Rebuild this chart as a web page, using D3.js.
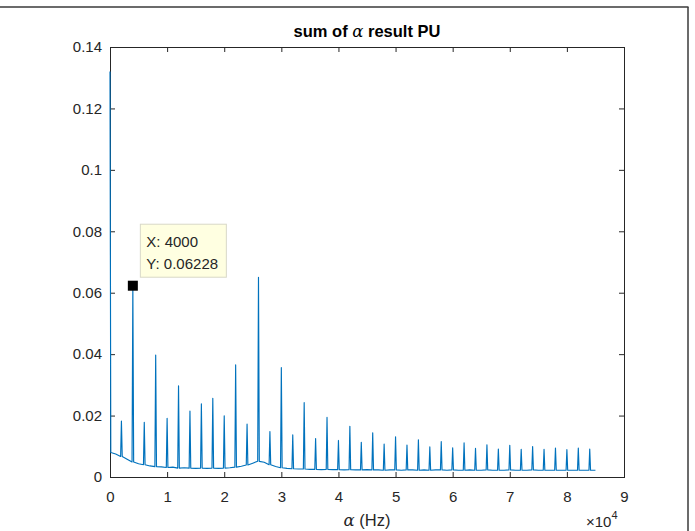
<!DOCTYPE html>
<html>
<head>
<meta charset="utf-8">
<script src="https://cdn.jsdelivr.net/npm/d3@7/dist/d3.min.js"></script>
<style>
  html, body { margin: 0; padding: 0; background: #ffffff; }
  svg { display: block; }
  text { font-family: "Liberation Sans", Arial, Helvetica, sans-serif; }
</style>
</head>
<body>
<svg id="chart" width="695" height="531"></svg>
<script>
// ---------- data ----------
const titleText = "result PU";
const xTicks = [0, 10000, 20000, 30000, 40000, 50000, 60000, 70000, 80000, 90000];
const xTickLabels = ["0", "1", "2", "3", "4", "5", "6", "7", "8", "9"];
const yTicks = [0, 0.02, 0.04, 0.06, 0.08, 0.1, 0.12, 0.14];
const yTickLabels = ["0", "0.02", "0.04", "0.06", "0.08", "0.1", "0.12", "0.14"];

// spike frequencies (Hz) and spike heights
const peakHz = [0, 2000, 4000, 6000, 8000, 10000, 12000, 14000, 16000, 18000,
  20000, 22000, 24000, 26000, 28000, 30000, 32000, 34000, 36000, 38000,
  40000, 42000, 44000, 46000, 48000, 50000, 52000, 54000, 56000, 58000,
  60000, 62000, 64000, 66000, 68000, 70000, 72000, 74000, 76000, 78000,
  80000, 82000, 84000];
const peakVal = [0.132, 0.0182, 0.06228, 0.0178, 0.0397, 0.0191, 0.0297, 0.0215, 0.0238, 0.0256,
  0.0199, 0.0365, 0.0172, 0.0650, 0.0148, 0.0356, 0.0137, 0.0242, 0.0125, 0.0194,
  0.0119, 0.0165, 0.0113, 0.0144, 0.0107, 0.0131, 0.0104, 0.0121, 0.0098, 0.0115,
  0.0095, 0.0111, 0.0093, 0.0105, 0.0091, 0.0103, 0.0090, 0.0099, 0.0090, 0.0094,
  0.0089, 0.0094, 0.0091];

// noise floor, read every 1000 Hz from 0 to 85000 Hz
const floorHz = [0, 1000, 2000, 3000, 4000, 5000, 6000, 7000, 8000, 9000,
  10000, 11000, 12000, 13000, 14000, 15000, 16000, 17000, 18000, 19000,
  20000, 21000, 22000, 23000, 24000, 25000, 26000, 27000, 28000, 29000,
  30000, 31000, 32000, 33000, 34000, 35000, 36000, 37000, 38000, 39000,
  40000, 41000, 42000, 43000, 44000, 45000, 46000, 47000, 48000, 49000,
  50000, 51000, 52000, 53000, 54000, 55000, 56000, 57000, 58000, 59000,
  60000, 61000, 62000, 63000, 64000, 65000, 66000, 67000, 68000, 69000,
  70000, 71000, 72000, 73000, 74000, 75000, 76000, 77000, 78000, 79000,
  80000, 81000, 82000, 83000, 84000, 85000];
const floorVal = [0.0080, 0.0075, 0.0067, 0.0058, 0.0049, 0.0043, 0.0040, 0.0036, 0.0034, 0.0033,
  0.0031, 0.0032, 0.0029, 0.0030, 0.0029, 0.0028, 0.0029, 0.0028, 0.0029, 0.0028,
  0.0029, 0.0030, 0.0032, 0.0035, 0.0039, 0.0045, 0.0051, 0.0048, 0.0040, 0.0034,
  0.0030, 0.0028, 0.0027, 0.0026, 0.0026, 0.0025, 0.0025, 0.0024, 0.0025, 0.0024,
  0.0024, 0.0023, 0.0024, 0.0023, 0.0023, 0.0024, 0.0023, 0.0023, 0.0022, 0.0023,
  0.0023, 0.0022, 0.0023, 0.0023, 0.0022, 0.0023, 0.0022, 0.0023, 0.0023, 0.0022,
  0.0023, 0.0022, 0.0022, 0.0023, 0.0022, 0.0022, 0.0023, 0.0022, 0.0022, 0.0022,
  0.0023, 0.0022, 0.0022, 0.0022, 0.0023, 0.0022, 0.0022, 0.0022, 0.0022, 0.0022,
  0.0022, 0.0022, 0.0022, 0.0022, 0.0022, 0.0022];

const tipX = 4000, tipY = 0.06228;

// ---------- build the line series ----------
const spikeHalf = 140; // Hz half-width of each spike base
const series = [];
floorHz.forEach((f, i) => {
  const pi = peakHz.indexOf(f);
  if (pi >= 0) {
    if (f > 0) series.push([f - spikeHalf, floorVal[i]]);
    series.push([f, peakVal[pi]]);
    series.push([f + spikeHalf, floorVal[i]]);
  } else {
    series.push([f, floorVal[i]]);
  }
});

// ---------- layout ----------
const svg = d3.select("#chart");
const L = 110, R = 624, T = 47, B = 477;
const x = d3.scaleLinear().domain([0, 90000]).range([L, R]);
const y = d3.scaleLinear().domain([0, 0.14]).range([B, T]);
const axisColor = "#262626";

// figure frame lines (window border)
svg.append("line").attr("x1", 0).attr("x2", 688.5).attr("y1", 7).attr("y2", 7)
  .attr("stroke", "#3a3a3a").attr("stroke-width", 1.5);
svg.append("line").attr("x1", 688).attr("x2", 688).attr("y1", 7).attr("y2", 531)
  .attr("stroke", "#3a3a3a").attr("stroke-width", 1.5);

// axes
function styleAxis(g) {
  g.select(".domain").remove();
  g.selectAll(".tick line").attr("stroke", axisColor);
  g.selectAll(".tick text").attr("fill", axisColor).style("font-size", "15px");
}
svg.append("g").attr("transform", `translate(0,${B})`)
  .call(d3.axisBottom(x).tickValues(xTicks).tickFormat((d, i) => xTickLabels[i])
    .tickSizeInner(-5).tickSizeOuter(0).tickPadding(14))
  .call(styleAxis);
svg.append("g").attr("transform", `translate(0,${T})`)
  .call(d3.axisTop(x).tickValues(xTicks).tickFormat("").tickSizeInner(-5).tickSizeOuter(0))
  .call(styleAxis);
svg.append("g").attr("transform", `translate(${L},0)`)
  .call(d3.axisLeft(y).tickValues(yTicks).tickFormat((d, i) => yTickLabels[i])
    .tickSizeInner(-5).tickSizeOuter(0).tickPadding(8))
  .call(styleAxis);
svg.append("g").attr("transform", `translate(${R},0)`)
  .call(d3.axisRight(y).tickValues(yTicks).tickFormat("").tickSizeInner(-5).tickSizeOuter(0))
  .call(styleAxis);

// axes box
svg.append("rect").attr("x", L).attr("y", T).attr("width", R - L).attr("height", B - T)
  .attr("fill", "none").attr("stroke", axisColor).attr("stroke-width", 1)
  .attr("shape-rendering", "crispEdges");

// data line (drawn over the axes, as in the reference)
const line = d3.line().x(d => x(d[0])).y(d => y(d[1]));
svg.append("path").datum(series)
  .attr("fill", "none").attr("stroke", "#0072BD").attr("stroke-width", 1.15)
  .attr("stroke-linejoin", "round")
  .attr("d", line);

// title
const title = svg.append("text").attr("x", (L + R) / 2).attr("y", 37)
  .attr("text-anchor", "middle").attr("fill", "#000")
  .style("font-size", "16.5px").style("font-weight", "bold");
title.append("tspan").text("sum of ");
title.append("tspan").text("α").style("font-family", "'DejaVu Serif', 'Liberation Serif', serif")
  .style("font-style", "italic").style("font-weight", "normal");
title.append("tspan").text(" " + titleText);

// x label
const xl = svg.append("text").attr("x", (L + R) / 2).attr("y", 526)
  .attr("text-anchor", "middle").attr("fill", axisColor).style("font-size", "16.5px");
xl.append("tspan").text("α").style("font-family", "'DejaVu Serif', 'Liberation Serif', serif")
  .style("font-style", "italic");
xl.append("tspan").text(" (Hz)");

// exponent label
const ex = svg.append("text").attr("x", 586).attr("y", 527).attr("fill", axisColor)
  .style("font-size", "15px");
ex.append("tspan").text("×10");
ex.append("tspan").text("4").attr("dy", -8).style("font-size", "11px");

// datatip
const mx = x(tipX), my = y(tipY);
svg.append("rect").attr("x", mx - 5).attr("y", my - 5).attr("width", 10).attr("height", 10)
  .attr("fill", "#000");
const bx = mx + 7.5, by = my - 61.5;
svg.append("rect").attr("x", bx).attr("y", by).attr("width", 86).attr("height", 53)
  .attr("fill", "#FFFFE1").attr("stroke", "#d8d8c8").attr("stroke-width", 1);
svg.append("text").attr("x", bx + 6).attr("y", by + 23).attr("fill", "#262626")
  .style("font-size", "15px").text("X: " + tipX);
svg.append("text").attr("x", bx + 6).attr("y", by + 45).attr("fill", "#262626")
  .style("font-size", "15px").text("Y: " + tipY);
</script>
</body>
</html>
